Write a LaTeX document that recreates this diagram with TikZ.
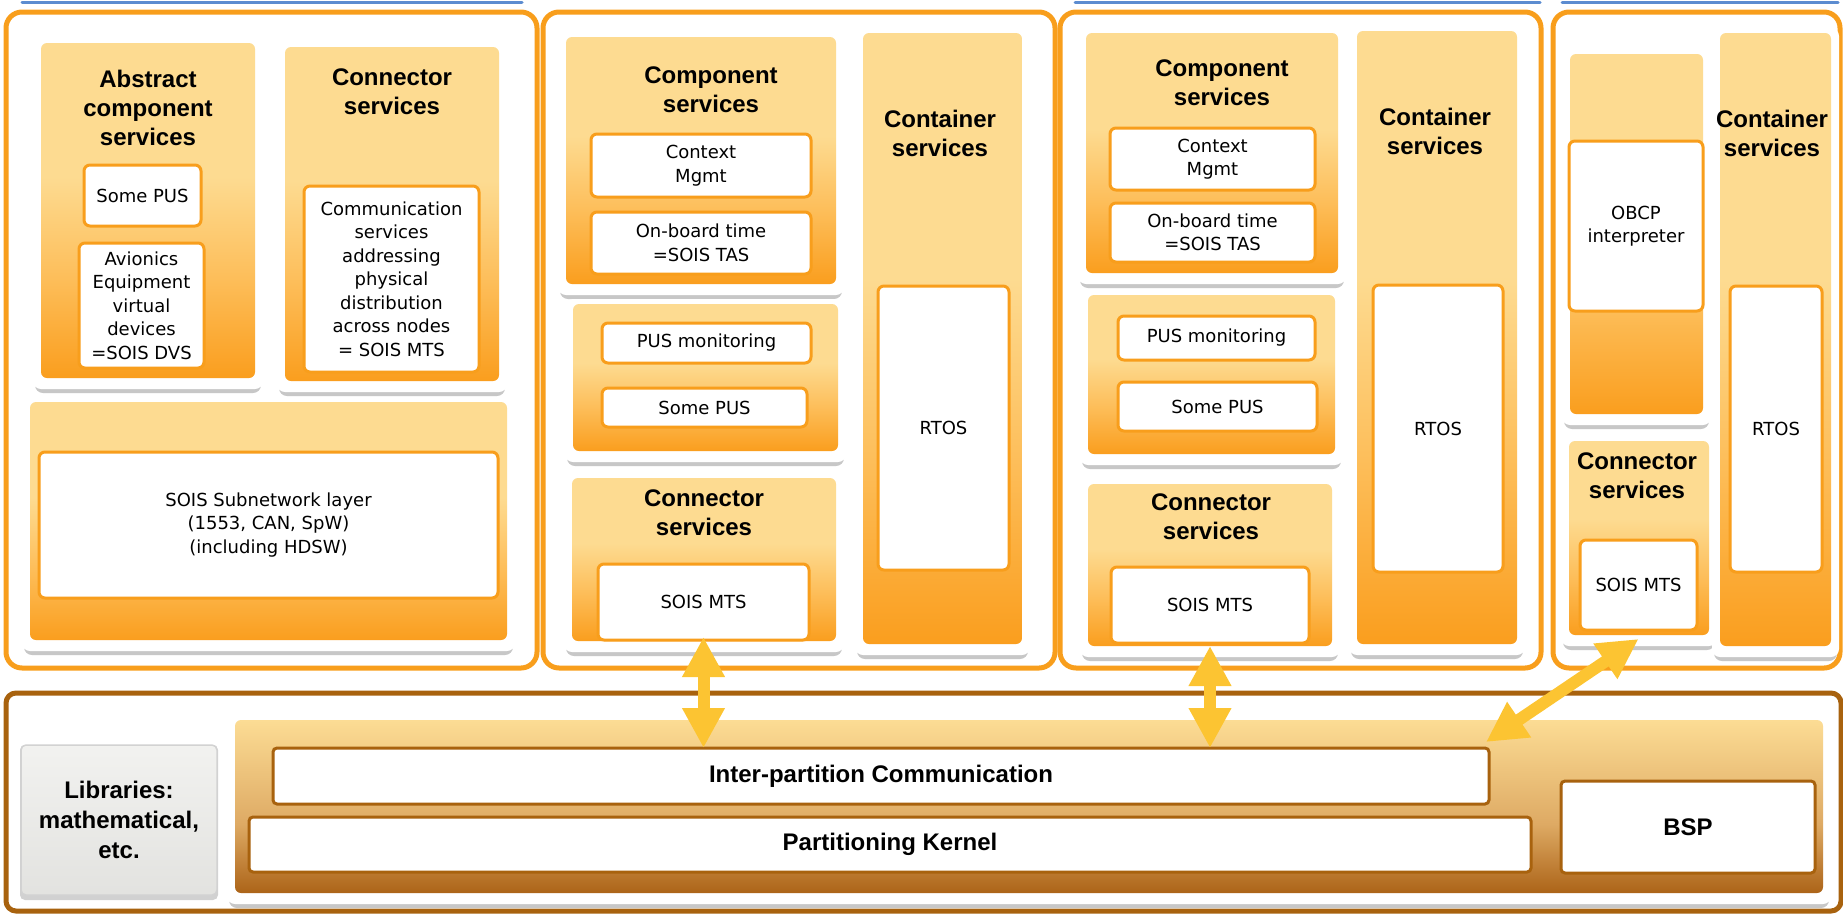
\documentclass[tikz,border=0pt]{standalone}
\usepackage{fontspec}
\setmainfont{Liberation Sans}
\newfontfamily\smallf{DejaVu Sans}
\usetikzlibrary{arrows.meta}
\definecolor{oBorder}{RGB}{248,158,28}
\definecolor{oTop}{RGB}{253,219,145}
\definecolor{oMid}{RGB}{253,190,90}
\definecolor{oBot}{RGB}{250,158,30}
\definecolor{brownB}{RGB}{168,98,14}
\definecolor{pTop}{RGB}{252,220,148}
\definecolor{pMid}{RGB}{222,170,100}
\definecolor{pBot}{RGB}{172,100,24}
\definecolor{arrowc}{RGB}{252,196,50}
\definecolor{blueL}{RGB}{92,140,208}
\definecolor{libFill}{RGB}{236,236,233}
\definecolor{libBorder}{RGB}{210,210,210}
\pgfdeclareverticalshading{ograd}{100bp}{color(0bp)=(oBot); color(25bp)=(oBot); color(40bp)=(oMid); color(55bp)=(oTop); color(100bp)=(oTop)}
\pgfdeclareverticalshading{pgradsh}{100bp}{color(0bp)=(pBot); color(25bp)=(pBot); color(45bp)=(pMid); color(75bp)=(pTop); color(100bp)=(pTop)}
\pgfdeclarelayer{L0}
\pgfdeclarelayer{L1}
\pgfsetlayers{L0,L1,main}
\newcommand\frm[1]{%
  \fill[black!22, rounded corners=8pt] ([xshift=-6pt,yshift=2pt]#1.north west) rectangle ([xshift=6pt,yshift=-15pt]#1.south east);
  \fill[white, rounded corners=8pt] ([xshift=-8pt,yshift=5pt]#1.north west) rectangle ([xshift=8pt,yshift=-11pt]#1.south east);}
\tikzset{
  part/.style={draw=oBorder, line width=5pt, fill=white, rounded corners=16pt, anchor=north west, inner sep=0pt, outer sep=0pt},
  plat/.style={draw=brownB, line width=5pt, fill=white, rounded corners=10pt, anchor=north west, inner sep=0pt, outer sep=0pt},
  obox/.style={shade, shading=ograd, rounded corners=6pt, anchor=north west, inner sep=0pt, outer sep=0pt},
  pbox/.style={shade, shading=pgradsh, rounded corners=6pt, anchor=north west, inner sep=0pt, outer sep=0pt},
  wbox/.style={draw=oBorder, line width=3pt, fill=white, rounded corners=6pt, anchor=north west, inner sep=0pt, outer sep=0pt, align=center, font=\smallf\fontsize{18}{23.5}\selectfont},
  bwbox/.style={draw=brownB, line width=3pt, fill=white, rounded corners=4pt, anchor=north west, inner sep=0pt, outer sep=0pt, align=center, font=\bfseries\fontsize{24}{29}\selectfont},
  libbox/.style={draw=libBorder, line width=1.5pt, top color=white!30!libFill, bottom color=libFill!96!black, rounded corners=5pt, anchor=north west, inner sep=0pt, outer sep=0pt, align=center, font=\bfseries\fontsize{24}{30}\selectfont},
  ttl/.style={font=\bfseries\fontsize{24}{29}\selectfont, align=center, inner sep=0pt},
  arr/.style={draw=arrowc, line width=12pt, {Triangle[width=40pt,length=40pt]}-{Triangle[width=40pt,length=40pt]}},
  blueline/.style={draw=blueL, line width=3pt, line cap=round}
}
\begin{document}
\begin{tikzpicture}[x=1pt,y=-1pt]
\useasboundingbox (0,0) rectangle (1843,916);

% ---------- Partition 1 ----------
\node[obox, minimum width=214pt, minimum height=335pt] (abs) at (41,43) {};
\node[obox, minimum width=214pt, minimum height=334pt] (con1) at (285,47) {};
\node[obox, minimum width=477pt, minimum height=238pt] (subnet) at (30,402) {};
\node[wbox, minimum width=117pt, minimum height=61pt] (spus1) at (84,165) {Some PUS};
\node[wbox, minimum width=125pt, minimum height=125pt] (avion) at (79,243) {Avionics\\Equipment\\virtual\\devices\\=SOIS DVS};
\node[wbox, minimum width=175pt, minimum height=186pt] (comm) at (304,186) {Communication\\services\\addressing\\physical\\distribution\\across nodes\\= SOIS MTS};
\node[wbox, minimum width=459pt, minimum height=146pt] (subw) at (39,452) {SOIS Subnetwork layer\\(1553, CAN, SpW)\\(including HDSW)};
\node[ttl] (absT) at (148,108) {Abstract\\component\\services};
\node[ttl] (con1T) at (392,92) {Connector\\services};

% ---------- Partition 2 ----------
\node[obox, minimum width=270pt, minimum height=247pt] (comp2) at (566,37) {};
\node[obox, minimum width=265pt, minimum height=147pt] (pusg2) at (573,304) {};
\node[obox, minimum width=264pt, minimum height=163pt] (con2) at (572,478) {};
\node[obox, minimum width=159pt, minimum height=611pt] (cont2) at (863,33) {};
\node[wbox, minimum width=220pt, minimum height=63pt] (ctx2) at (591,134) {Context\\Mgmt};
\node[wbox, minimum width=220pt, minimum height=62pt] (obt2) at (591,212) {On-board time\\=SOIS TAS};
\node[wbox, minimum width=209pt, minimum height=40pt] (pusm2) at (602,323) {PUS monitoring};
\node[wbox, minimum width=205pt, minimum height=39pt] (spus2) at (602,388) {Some PUS};
\node[wbox, minimum width=211pt, minimum height=76pt] (mts2) at (598,564) {SOIS MTS};
\node[wbox, minimum width=131pt, minimum height=284pt] (rtos2) at (878,286) {RTOS};
\node[ttl] (comp2T) at (711,90) {Component\\services};
\node[ttl] (con2T) at (704,513) {Connector\\services};
\node[ttl] (cont2T) at (940,133) {Container\\services};

% ---------- Partition 3 ----------
\node[obox, minimum width=252pt, minimum height=240pt] (comp3) at (1086,33) {};
\node[obox, minimum width=247pt, minimum height=159pt] (pusg3) at (1088,295) {};
\node[obox, minimum width=244pt, minimum height=162pt] (con3) at (1088,484) {};
\node[obox, minimum width=160pt, minimum height=613pt] (cont3) at (1357,31) {};
\node[wbox, minimum width=205pt, minimum height=62pt] (ctx3) at (1110,128) {Context\\Mgmt};
\node[wbox, minimum width=205pt, minimum height=59pt] (obt3) at (1110,203) {On-board time\\=SOIS TAS};
\node[wbox, minimum width=197pt, minimum height=44pt] (pusm3) at (1118,316) {PUS monitoring};
\node[wbox, minimum width=199pt, minimum height=49pt] (spus3) at (1118,382) {Some PUS};
\node[wbox, minimum width=198pt, minimum height=76pt] (mts3) at (1111,567) {SOIS MTS};
\node[wbox, minimum width=130pt, minimum height=287pt] (rtos3) at (1373,285) {RTOS};
\node[ttl] (comp3T) at (1222,83) {Component\\services};
\node[ttl] (con3T) at (1211,517) {Connector\\services};
\node[ttl] (cont3T) at (1435,131) {Container\\services};

% ---------- Partition 4 ----------
\node[obox, minimum width=133pt, minimum height=360pt] (obcpg) at (1570,54) {};
\node[obox, minimum width=140pt, minimum height=194pt] (con4) at (1569,441) {};
\node[obox, minimum width=111pt, minimum height=613pt] (cont4) at (1720,33) {};
\node[wbox, minimum width=134pt, minimum height=170pt] (obcp) at (1569,141) {OBCP\\interpreter};
\node[wbox, minimum width=117pt, minimum height=90pt] (mts4) at (1580,540) {SOIS MTS};
\node[wbox, minimum width=92pt, minimum height=286pt] (rtos4) at (1730,286) {RTOS};
\node[ttl] (con4T) at (1637,476) {Connector\\services};
\node[ttl] (cont4T) at (1772,133) {Container\\services};

% ---------- Platform ----------
\node[pbox, minimum width=1588pt, minimum height=173pt] (pgrad) at (235,720) {};
\node[libbox, minimum width=196pt, minimum height=150pt] (lib) at (21,745) {Libraries:\\mathematical,\\etc.};
\node[bwbox, minimum width=1216pt, minimum height=56pt] (ipc) at (273,748) {Inter-partition Communication};
\node[bwbox, minimum width=1282pt, minimum height=55pt] (pk) at (249,817) {Partitioning Kernel};
\node[bwbox, minimum width=254pt, minimum height=92pt] (bsp) at (1561,781) {BSP};

% ---------- frames ----------
\begin{pgfonlayer}{L1}
  \frm{abs}\frm{con1}\frm{subnet}
  \frm{comp2}\frm{pusg2}\frm{con2}\frm{cont2}
  \frm{comp3}\frm{pusg3}\frm{con3}\frm{cont3}
  \frm{obcpg}\frm{con4}\frm{cont4}
  \frm{pgrad}
  \fill[black!18, rounded corners=5pt] ([xshift=-1pt]lib.north west) rectangle ([xshift=1pt,yshift=-5pt]lib.south east);
\end{pgfonlayer}

% ---------- partitions ----------
\begin{pgfonlayer}{L0}
  \node[part, minimum width=531pt, minimum height=656pt] (P1) at (6,12) {};
  \node[part, minimum width=512pt, minimum height=656pt] (P2) at (543,12) {};
  \node[part, minimum width=481pt, minimum height=656pt] (P3) at (1060,12) {};
  \node[part, minimum width=287pt, minimum height=656pt] (P4) at (1553,12) {};
  \node[plat, minimum width=1835pt, minimum height=218pt] (PL) at (6,693) {};
  \draw[blueline] (22,2) -- (522,2);
  \draw[blueline] (1075,2) -- (1540,2);
  \draw[blueline] (1562,2) -- (1838,2);
\end{pgfonlayer}

% ---------- arrows ----------
\draw[arr] ([yshift=3pt]mts2.south) -- (mts2.south |- ipc.north);
\draw[arr] ([yshift=-3pt]mts3.south) -- (mts3.south |- ipc.north);
\draw[arr] ([yshift=-9pt]mts4.south) -- ([xshift=-3pt,yshift=6pt]ipc.north east);
\end{tikzpicture}
\end{document}
